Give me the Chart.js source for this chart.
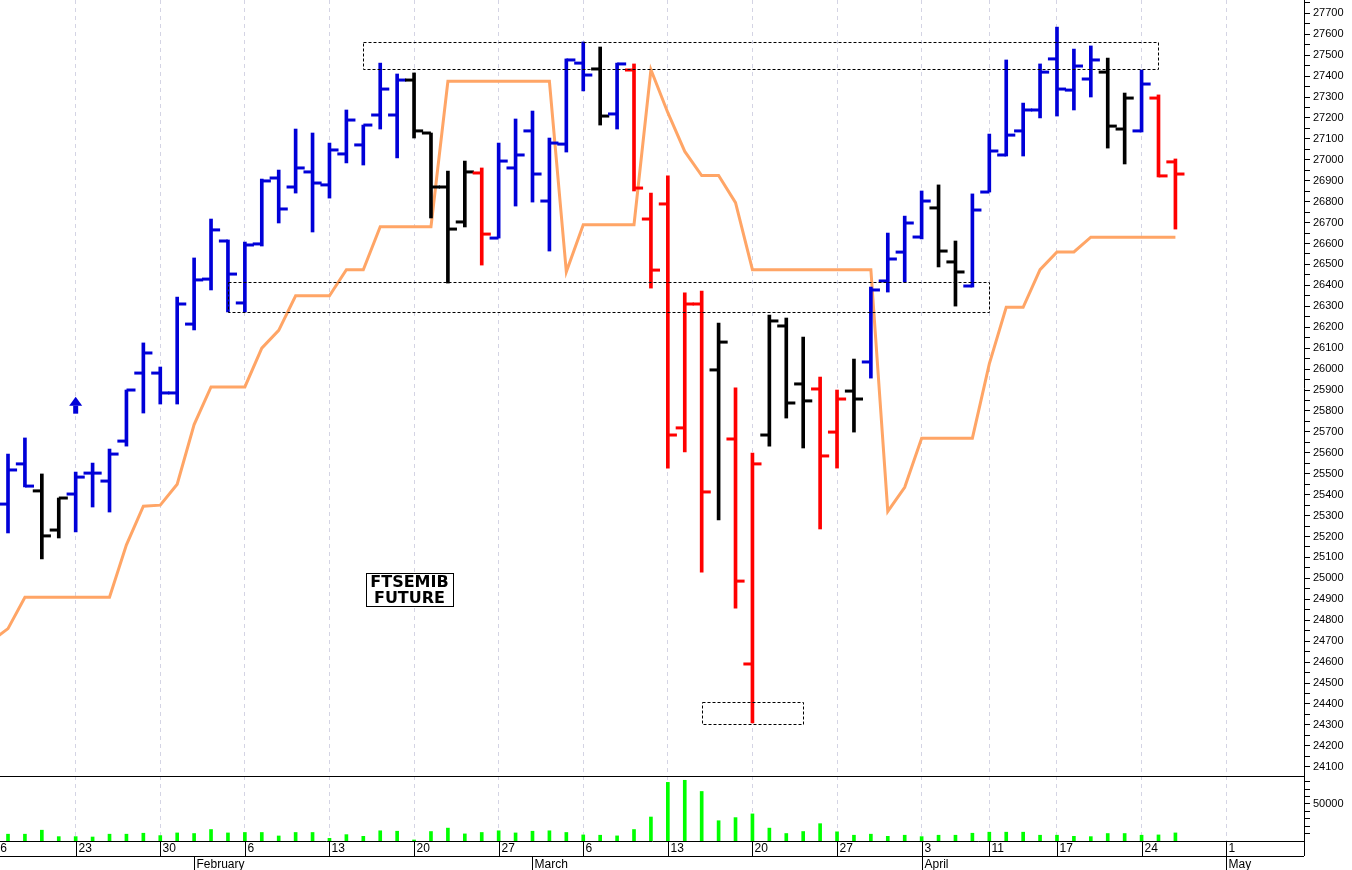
<!DOCTYPE html>
<html>
<head>
<meta charset="utf-8">
<script src="https://cdn.jsdelivr.net/npm/chart.js@4.4.0/dist/chart.umd.min.js"></script>
<style>
html, body { margin: 0; padding: 0; background: #fff; }
#wrap { position: relative; width: 1352px; height: 870px; overflow: hidden; background: #fff; }
#price { position: absolute; left: 0; top: 0; }
#vol { position: absolute; left: 0; top: 776px; }
</style>
</head>
<body>
<div id="wrap">
  <canvas id="price" width="1352" height="776"></canvas>
  <canvas id="vol" width="1352" height="94"></canvas>
</div>
<script>
// --- days on the axis (trading days, then the empty weekdays ahead) ---
const dates = [
  '2023-01-16','2023-01-17','2023-01-18','2023-01-19','2023-01-20',
  '2023-01-23','2023-01-24','2023-01-25','2023-01-26','2023-01-27',
  '2023-01-30','2023-01-31','2023-02-01','2023-02-02','2023-02-03',
  '2023-02-06','2023-02-07','2023-02-08','2023-02-09','2023-02-10',
  '2023-02-13','2023-02-14','2023-02-15','2023-02-16','2023-02-17',
  '2023-02-20','2023-02-21','2023-02-22','2023-02-23','2023-02-24',
  '2023-02-27','2023-02-28','2023-03-01','2023-03-02','2023-03-03',
  '2023-03-06','2023-03-07','2023-03-08','2023-03-09','2023-03-10',
  '2023-03-13','2023-03-14','2023-03-15','2023-03-16','2023-03-17',
  '2023-03-20','2023-03-21','2023-03-22','2023-03-23','2023-03-24',
  '2023-03-27','2023-03-28','2023-03-29','2023-03-30','2023-03-31',
  '2023-04-03','2023-04-04','2023-04-05','2023-04-06',
  '2023-04-11','2023-04-12','2023-04-13','2023-04-14',
  '2023-04-17','2023-04-18','2023-04-19','2023-04-20','2023-04-21',
  '2023-04-24','2023-04-25','2023-04-26','2023-04-27','2023-04-28',
  '2023-05-01','2023-05-02','2023-05-03','2023-05-04','2023-05-05'
];
const monthNames = ['January','February','March','April','May','June'];

// --- daily bars (index aligned with dates) ---
const open = [null,
  25355, 25547, 25418, 25231, 25403,  25503, 25465, 25656, 25981, 25981,
  25886, 26215, 26430, 26612, 26316,  26598, 26913, 26870, 26942, 26880,
  27028, 27071, 27214, 27214, 27381,  27128, 26870, 26703, 26937, 26626,
  26961, 27138, 26803, 27075, 27462,  27434, 27219, 27429, 26717, 26789,
  25719, 26311, 25996, 25666, 24591,  25685, 26206, 25929, 25905, 25699,
  25895, 26034, 26421, 26559, 26631,  26770, 26512, 26397, 26846, 27023,
  27138, 27238, 27482, 27333, 27386,  27419, 27147, 27138, 27295, 26990];
const high = [null,
  25594, 25671, 25499, 25384, 25508,  25551, 25618, 25900, 26125, 26010,
  26344, 26531, 26717, 26617, 26607,  26908, 26951, 27147, 27128, 27080,
  27238, 27166, 27462, 27410, 27415,  27128, 26946, 26994, 26961, 27080,
  27195, 27233, 27104, 27482, 27563,  27539, 27462, 27458, 26841, 26923,
  26364, 26373, 26220, 25910, 25599,  26258, 26244, 26153, 25962, 25900,
  26048, 26392, 26650, 26731, 26851,  26880, 26612, 26837, 27123, 27477,
  27271, 27458, 27634, 27529, 27544,  27486, 27319, 27429, 27310, 27004];
const low = [null,
  25217, 25437, 25093, 25193, 25222,  25341, 25317, 25632, 25790, 25833,
  25833, 26187, 26378, 26273, 26273,  26588, 26698, 26841, 26655, 26817,
  26985, 26975, 27147, 27009, 27104,  26722, 26411, 26679, 26497, 26626,
  26779, 26798, 26564, 27037, 27329,  27166, 27147, 26851, 26387, 25527,
  25604, 25030, 25279, 24858, 24309,  25632, 25766, 25623, 25236, 25527,
  25699, 25957, 26368, 26416, 26622,  26488, 26301, 26392, 26846, 27018,
  27018, 27200, 27209, 27238, 27300,  27056, 26980, 27133, 26918, 26669];
const close = [null,
  25518, 25441, 25203, 25384, 25484,  25503, 25594, 25900, 26077, 25886,
  26311, 26426, 26665, 26454, 26593,  26899, 26765, 26961, 26889, 27047,
  27190, 27166, 27338, 27381, 27138,  26870, 26669, 26942, 26645, 26994,
  27023, 26932, 27080, 27477, 27405,  27209, 27458, 26865, 26473, 25685,
  26311, 25413, 26129, 24987, 25547,  26230, 25838, 25848, 25585, 25857,
  25857, 26378, 26526, 26698, 26803,  26564, 26464, 26760, 27042, 27118,
  27238, 27419, 27338, 27448, 27477,  27161, 27295, 27362, 26923, 26932];
// 1 = long (blue), -1 = short (red), 0 = flat (black)
const signal = [null,
  1, 1, 0, 0, 1,  1, 1, 1, 1, 1,  1, 1, 1, 1, 1,  1, 1, 1, 1, 1,
  1, 1, 1, 1, 0,  0, 0, 0, -1, 1,  1, 1, 1, 1, 1,  0, 1, -1, -1, -1,
  -1, -1, 0, -1, -1,  0, 0, 0, -1, -1,  0, 1, 1, 1, 1,  0, 0, 1, 1, 1,
  1, 1, 1, 1, 1,  0, 0, 1, -1, -1];
const volume = [null,
  9200, 9200, 14600, 5900, 5900,  5400, 9200, 9200, 10500, 7300,
  10900, 10100, 15500, 10900, 11500,  11500, 6800, 11500, 11500, 3600,
  8600, 6300, 13800, 13200, 1400,  12800, 17400, 9600, 11500, 13800,
  10900, 13200, 13800, 11500, 8200,  7800, 6900, 15500, 32400, 79200,
  82000, 66900, 27400, 31600, 36600,  17400, 10100, 12800, 23400, 12400,
  7800, 9200, 6300, 7800, 5900,  7800, 7800, 10500, 11900, 11900,
  11900, 7800, 7800, 6300, 5900,  10100, 10100, 7800, 8200, 10900];
// trailing stop line
const stop = [24700, 24760,
  24910, 24910, 24910, 24910, 24910, 24910, 25160, 25345, 25350, 25450,
  25735, 25915, 25915, 25915, 26100, 26185, 26350, 26350, 26350, 26475,
  26475, 26680, 26680, 26680, 26680, 27375, 27375, 27375, 27375, 27375,
  27375, 27375, 26465, 26690, 26690, 26690, 26690, 27430, 27225, 27040,
  26925, 26925, 26795, 26475, 26475, 26475, 26475, 26475, 26475, 26475,
  26475, 25320, 25435, 25670, 25670, 25670, 25670, 26025, 26295, 26295,
  26475, 26560, 26560, 26630, 26630, 26630, 26630, 26630, 26630];

// dashed boxes drawn on the chart: date index range and price range
const boxes = [
  { from: 22, to: 69, low: 27434, high: 27563 },
  { from: 14, to: 59, low: 26273, high: 26416 },
  { from: 42, to: 48, low: 24304, high: 24409 }
];
const arrowMark = { at: 5, price: 25830 };
const titleMark = { at: 24.73, price: 24947, lines: ['FTSEMIB', 'FUTURE'] };

// --- layout constants ---
const xMin = 0.527, xMax = 77.6;
const priceMin = 24055.8, priceMax = 27763.5;
const volMax = 87800;
const palette = { '1': '#0000d8', '-1': '#ff0000', '0': '#000000' };
const tickOff = 0.27;

Chart.defaults.font.family = '"Liberation Sans", Arial, sans-serif';
Chart.defaults.font.size = 11;
Chart.defaults.color = '#000';

const days = dates.map(s => new Date(s + 'T00:00:00Z'));
const weekStarts = [];
const monthStarts = [];
days.forEach((d, i) => {
  const p = days[i - 1];
  if (!p || d.getUTCDay() <= p.getUTCDay() || d - p > 6 * 864e5) weekStarts.push(i);
  if (p && d.getUTCMonth() !== p.getUTCMonth()) monthStarts.push(i);
});

const idx = dates.map((d, i) => i).filter(i => high[i] != null);
const barColors = idx.map(i => palette[signal[i]]);

const rangeData = idx.map(i => ({ x: i, y: [low[i], high[i]] }));
const openData = idx.map(i => ({ x: i - tickOff, y: open[i] }));
const closeData = idx.map(i => ({ x: i + tickOff, y: close[i] }));
const stopData = stop.map((v, i) => ({ x: i, y: v }));
const volData = idx.map(i => ({ x: i, y: volume[i] }));

function fixWidth(s) {
  s.width = 48;
  s.paddingTop = 0;
  s.paddingBottom = 0;
}
function weekTicks(s) {
  s.ticks = weekStarts.map(v => ({ value: v }));
}

const gridColor = '#d4d4e4';

// --- annotations on the price panel ---
const annotate = {
  id: 'annotate',
  afterDatasetsDraw(chart) {
    const { ctx } = chart;
    const x = chart.scales.x, y = chart.scales.y;
    ctx.save();
    ctx.strokeStyle = '#000';
    ctx.lineWidth = 1;
    ctx.setLineDash([3, 2]);
    boxes.forEach(b => {
      const x1 = Math.round(x.getPixelForValue(b.from)) + 0.5;
      const x2 = Math.round(x.getPixelForValue(b.to)) + 0.5;
      const y1 = Math.round(y.getPixelForValue(b.high)) + 0.5;
      const y2 = Math.round(y.getPixelForValue(b.low)) + 0.5;
      ctx.strokeRect(x1, y1, x2 - x1, y2 - y1);
    });
    ctx.setLineDash([]);

    // buy arrow
    const ax = x.getPixelForValue(arrowMark.at);
    const ay = y.getPixelForValue(arrowMark.price);
    ctx.fillStyle = palette['1'];
    ctx.beginPath();
    ctx.moveTo(ax, ay - 8);
    ctx.lineTo(ax + 6.5, ay + 1);
    ctx.lineTo(ax - 6.5, ay + 1);
    ctx.closePath();
    ctx.fill();
    ctx.fillRect(ax - 2.5, ay + 1, 5, 8);

    // title box
    const tx = x.getPixelForValue(titleMark.at);
    const ty = y.getPixelForValue(titleMark.price);
    const w = 87, h = 33;
    ctx.fillStyle = '#fff';
    ctx.fillRect(tx - w / 2, ty - h / 2, w, h);
    ctx.strokeStyle = '#000';
    ctx.strokeRect(Math.round(tx - w / 2) + 0.5, Math.round(ty - h / 2) + 0.5, w, h);
    ctx.fillStyle = '#000';
    ctx.font = 'bold 16px "DejaVu Sans", sans-serif';
    ctx.textAlign = 'center';
    ctx.textBaseline = 'middle';
    ctx.fillText(titleMark.lines[0], tx, ty - 7);
    ctx.fillText(titleMark.lines[1], tx, ty + 9);
    ctx.restore();
  }
};

const priceChart = new Chart(document.getElementById('price'), {
  data: {
    datasets: [
      { type: 'scatter', label: 'Open', data: openData, pointStyle: 'line', pointRadius: 4.5,
        pointBorderWidth: 3, pointBorderColor: barColors, order: 0 },
      { type: 'scatter', label: 'Close', data: closeData, pointStyle: 'line', pointRadius: 4.5,
        pointBorderWidth: 3, pointBorderColor: barColors, order: 0 },
      { type: 'bar', label: 'Range', data: rangeData, backgroundColor: barColors, borderWidth: 0,
        barThickness: 3, grouped: false, order: 1 },
      { type: 'line', label: 'Stop', data: stopData, borderColor: '#ffa566', borderWidth: 3,
        pointRadius: 0, tension: 0, order: 5 }
    ]
  },
  options: {
    responsive: false,
    animation: false,
    events: [],
    layout: { padding: 0, autoPadding: false },
    plugins: { legend: { display: false }, tooltip: { enabled: false } },
    scales: {
      x: {
        type: 'linear', min: xMin, max: xMax, offset: false,
        afterBuildTicks: weekTicks,
        ticks: { display: false },
        grid: { color: gridColor, drawTicks: false, offset: false },
        border: { display: false, dash: [4, 4] }
      },
      y: {
        type: 'linear', position: 'right', min: priceMin, max: priceMax,
        afterBuildTicks: s => {
          const t = [];
          for (let v = 24100; v <= 27750; v += 50) t.push({ value: v });
          s.ticks = t;
        },
        afterFit: fixWidth,
        ticks: { padding: 3, autoSkip: false, callback: v => (v % 100 === 0 ? String(v) : '') },
        grid: { drawOnChartArea: false, tickLength: 6, color: '#000' },
        border: { color: '#000' }
      }
    }
  },
  plugins: [annotate]
});

// --- date axis under the volume panel ---
const dateAxis = {
  id: 'dateAxis',
  afterDraw(chart) {
    const { ctx, chartArea } = chart;
    const x = chart.scales.x;
    const y0 = chartArea.bottom, y1 = y0 + 15, y2 = chart.height;
    ctx.save();
    ctx.strokeStyle = '#000';
    ctx.lineWidth = 1;
    // frame lines
    ctx.beginPath();
    ctx.moveTo(0, 0.5); ctx.lineTo(chartArea.right, 0.5);
    ctx.moveTo(0, y1 + 0.5); ctx.lineTo(chartArea.right, y1 + 0.5);
    ctx.moveTo(chartArea.right + 0.5, 0); ctx.lineTo(chartArea.right + 0.5, y1);
    ctx.stroke();
    ctx.fillStyle = '#000';
    ctx.font = '12px "Liberation Sans", Arial, sans-serif';
    ctx.textBaseline = 'middle';
    ctx.textAlign = 'left';
    weekStarts.forEach(i => {
      const px = Math.round(x.getPixelForValue(i)) + 0.5;
      if (px > chartArea.right) return;
      ctx.beginPath(); ctx.moveTo(px, y0); ctx.lineTo(px, y1); ctx.stroke();
      ctx.fillText(String(days[i].getUTCDate()), px + 2, (y0 + y1) / 2);
    });
    monthStarts.forEach(i => {
      const px = Math.round(x.getPixelForValue(i)) + 0.5;
      if (px > chartArea.right) return;
      ctx.beginPath(); ctx.moveTo(px, y1); ctx.lineTo(px, y2); ctx.stroke();
      ctx.fillText(monthNames[days[i].getUTCMonth()], px + 2, y1 + 9);
    });
    ctx.restore();
  }
};

const volChart = new Chart(document.getElementById('vol'), {
  data: {
    datasets: [
      { type: 'bar', label: 'Volume', data: volData, backgroundColor: '#00ff00', borderWidth: 0,
        barThickness: 3 }
    ]
  },
  options: {
    responsive: false,
    animation: false,
    events: [],
    layout: { padding: { bottom: 29 }, autoPadding: false },
    plugins: { legend: { display: false }, tooltip: { enabled: false } },
    scales: {
      x: {
        type: 'linear', min: xMin, max: xMax, offset: false,
        afterBuildTicks: weekTicks,
        ticks: { display: false },
        grid: { color: gridColor, drawTicks: false, offset: false },
        border: { display: true, color: '#000', dash: [4, 4] }
      },
      y: {
        type: 'linear', position: 'right', min: 0, max: volMax,
        afterBuildTicks: s => {
          const t = [];
          for (let v = 10000; v <= 80000; v += 10000) t.push({ value: v });
          s.ticks = t;
        },
        afterFit: fixWidth,
        ticks: { padding: 3, autoSkip: false, callback: v => (v === 50000 ? '50000' : '') },
        grid: { drawOnChartArea: false, tickLength: 6, color: '#000' },
        border: { color: '#000' }
      }
    }
  },
  plugins: [dateAxis]
});
</script>
</body>
</html>
